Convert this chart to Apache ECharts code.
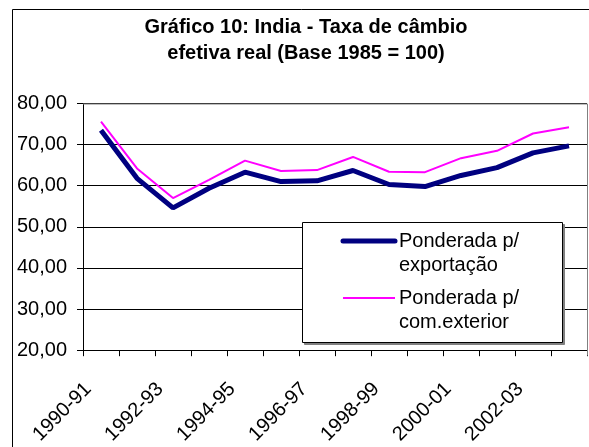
<!DOCTYPE html>
<html>
<head>
<meta charset="utf-8">
<script src="https://cdn.jsdelivr.net/npm/echarts@6/dist/echarts.min.js"></script>
<style>
html,body{margin:0;padding:0;background:#fff;}
#chart{width:589px;height:447px;}
</style>
</head>
<body>
<div id="chart"></div>
<script>
var titleLines = ['Gráfico 10: India - Taxa de câmbio', 'efetiva real (Base 1985 = 100)'];
var categories = ['1990-91','1991-92','1992-93','1993-94','1994-95','1995-96','1996-97','1997-98','1998-99','1999-00','2000-01','2001-02','2002-03','2003-04'];
var seriesNames = ['Ponderada p/\nexportação', 'Ponderada p/\ncom.exterior'];
var exportWeighted = [73.5, 61.8, 54.6, 59.4, 63.3, 61.0, 61.2, 63.7, 60.3, 59.8, 62.5, 64.4, 68.0, 69.7];
var tradeWeighted = [75.6, 64.2, 57.0, 61.4, 66.1, 63.6, 63.8, 67.0, 63.4, 63.3, 66.7, 68.5, 72.7, 74.2];
var yMin = 20, yMax = 80, yStep = 10;

var FONT = 'Liberation Sans, Arial, sans-serif';
var chart = echarts.init(document.getElementById('chart'), null, {renderer: 'canvas'});

var GL = 83, GT = 103.5, GR = 2, GB = 91.5;
var plotRight = 589 - GR;

var legendX = 302, legendY = 222, legendW = 260, legendH = 120;

chart.setOption({
  animation: false,
  backgroundColor: '#fff',
  grid: {left: GL, top: GT, right: GR, bottom: GB, containLabel: false},
  xAxis: {
    type: 'category',
    data: categories,
    boundaryGap: true,
    axisLine: {lineStyle: {color: '#000', width: 1}},
    axisTick: {show: true, interval: 0, length: 6, lineStyle: {color: '#000'}},
    axisLabel: {
      interval: 1, rotate: 45, margin: 23, padding: [0, 18, 0, 0],
      fontFamily: FONT, fontSize: 20, color: '#000'
    },
    splitLine: {show: false}
  },
  yAxis: {
    type: 'value',
    min: yMin, max: yMax, interval: yStep,
    axisLine: {show: true, lineStyle: {color: '#000', width: 1}},
    axisTick: {show: true, length: 6, lineStyle: {color: '#000'}},
    axisLabel: {
      margin: 16, fontFamily: FONT, fontSize: 20, color: '#000',
      formatter: function (v) { return v.toFixed(2).replace('.', ','); }
    },
    splitLine: {show: true, lineStyle: {color: '#000', width: 1}}
  },
  series: [
    {
      name: seriesNames[0], type: 'line', data: exportWeighted,
      symbol: 'none', lineStyle: {color: '#000080', width: 5}, z: 3
    },
    {
      name: seriesNames[1], type: 'line', data: tradeWeighted,
      symbol: 'none', lineStyle: {color: '#ff00ff', width: 2}, z: 4
    }
  ],
  graphic: [
    // outer chart border
    {type: 'rect', shape: {x: 12.5, y: 9.5, width: 620, height: 500}, style: {fill: 'none', stroke: '#000', lineWidth: 1}, z: 0, silent: true},
    // plot area border (top and right)
    {type: 'polyline', shape: {points: [[GL, GT + 0.5], [plotRight + 0.5, GT + 0.5], [plotRight + 0.5, 447 - GB]]}, style: {fill: 'none', stroke: '#808080', lineWidth: 1}, z: 10, silent: true},
    // title
    {type: 'text', x: 306, y: 14, style: {text: titleLines.join('\n'), align: 'center', verticalAlign: 'top', fontFamily: FONT, fontSize: 20, fontWeight: 'bold', lineHeight: 26, fill: '#000'}, z: 20},
    // legend
    {type: 'rect', shape: {x: legendX + 2.5, y: legendY + 2.5, width: legendW, height: legendH}, style: {fill: '#808080', stroke: '#808080', lineWidth: 1}, z: 20, silent: true},
    {type: 'rect', shape: {x: legendX + 0.5, y: legendY + 0.5, width: legendW, height: legendH}, style: {fill: '#fff', stroke: '#000', lineWidth: 1}, z: 21, silent: true},
    {type: 'line', shape: {x1: 343, y1: 241, x2: 395, y2: 241}, style: {stroke: '#000080', lineWidth: 5, lineCap: 'round'}, z: 22},
    {type: 'text', x: 399, y: 229, style: {text: seriesNames[0], align: 'left', verticalAlign: 'top', fontFamily: FONT, fontSize: 20, lineHeight: 24, fill: '#000'}, z: 22},
    {type: 'line', shape: {x1: 343, y1: 298, x2: 395, y2: 298}, style: {stroke: '#ff00ff', lineWidth: 2}, z: 22},
    {type: 'text', x: 399, y: 286, style: {text: seriesNames[1], align: 'left', verticalAlign: 'top', fontFamily: FONT, fontSize: 20, lineHeight: 24, fill: '#000'}, z: 22}
  ]
});
</script>
</body>
</html>
